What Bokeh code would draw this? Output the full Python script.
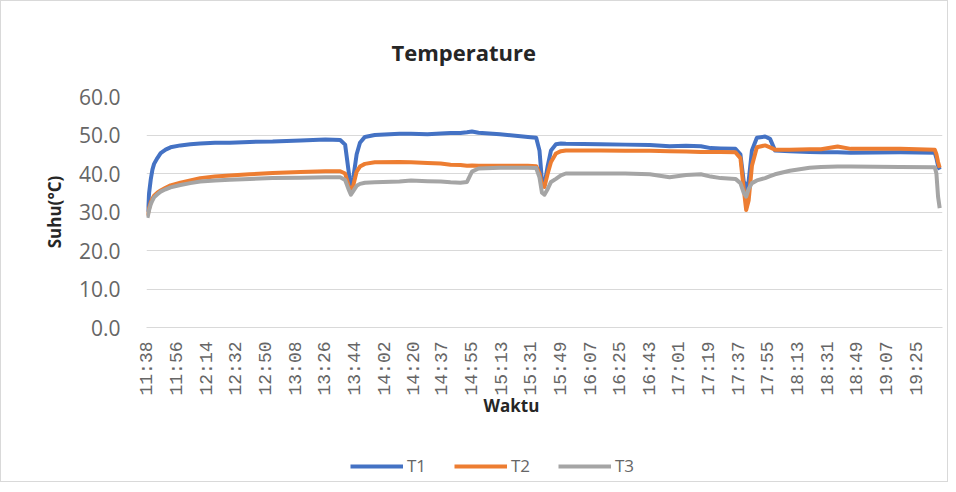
import math
from bokeh.plotting import figure
from bokeh.layouts import column
from bokeh.models import (Range1d, FixedTicker, Title, Legend, LegendItem,
                          NumeralTickFormatter)
from bokeh.embed import file_html
from bokeh.resources import INLINE

# ---------------- data ----------------
start_time = "11:38"
tick_labels = ["11:38", "11:56", "12:14", "12:32", "12:50", "13:08", "13:26",
               "13:44", "14:02", "14:20", "14:37", "14:55", "15:13", "15:31",
               "15:49", "16:07", "16:25", "16:43", "17:01", "17:19", "17:37",
               "17:55", "18:13", "18:31", "18:49", "19:07", "19:25"]

# elapsed minutes since 11:38
elapsed_min = [0, 1, 2, 3, 4, 6, 8, 11, 14, 20, 26, 32, 41, 50, 62, 76, 93, 108,
               117, 120, 122, 123.5, 125, 127, 129, 132, 138, 153, 160, 170, 178,
               184, 190, 194, 197, 201, 214, 231, 236, 238, 239.5, 241, 243, 245,
               248, 251, 254, 275, 290, 305, 317, 327, 336, 342, 348, 357, 360,
               362, 363.5, 365, 367, 370, 375, 378, 381, 390, 402, 409, 419, 427,
               457, 478, 479, 480, 481]

t1 = [30, 35, 38.5, 41, 42.5, 44, 45.3, 46.2, 46.8, 47.3, 47.6, 47.8, 48.0, 48.0,
      48.2, 48.3, 48.6, 48.8, 48.7, 47.5, 41, 36, 39, 45, 48, 49.5, 50.0, 50.3,
      50.3, 50.2, 50.4, 50.5, 50.5, 50.7, 50.9, 50.6, 50.2, 49.5, 49.3, 46, 38,
      37, 42, 46, 47.6, 47.8, 47.7, 47.6, 47.5, 47.4, 47.1, 47.2, 47.1, 46.6,
      46.5, 46.4, 45, 38, 36, 38, 46, 49.3, 49.6, 49.0, 46.0, 45.8, 45.6, 45.5,
      45.5, 45.4, 45.5, 45.4, 44, 42, 41]

t2 = [29, 31, 32.5, 33.5, 34.2, 35, 35.6, 36.3, 36.9, 37.6, 38.2, 38.8, 39.2,
      39.5, 39.8, 40.1, 40.4, 40.6, 40.6, 40, 37, 35, 37, 40.5, 41.8, 42.5, 42.9,
      43.0, 42.9, 42.7, 42.6, 42.3, 42.2, 42.0, 42.1, 42.0, 42.0, 42.0, 41.9, 40,
      37, 36.5, 40, 43, 45.2, 45.8, 46.0, 46.0, 45.9, 45.9, 45.8, 45.7, 45.6,
      45.6, 45.6, 45.5, 44, 36, 30.5, 33, 42, 46.8, 47.3, 46.8, 46.2, 46.2, 46.3,
      46.3, 47.0, 46.4, 46.4, 46.2, 45, 43, 41.5]

t3 = [28.5, 30.5, 32, 33, 33.8, 34.6, 35.3, 35.9, 36.4, 37.0, 37.5, 37.9, 38.2,
      38.4, 38.6, 38.8, 38.9, 39.0, 39.0, 38.3, 36, 34.5, 35.5, 36.8, 37.3, 37.6,
      37.7, 37.9, 38.2, 38.0, 37.9, 37.7, 37.6, 37.8, 40.5, 41.3, 41.5, 41.5,
      41.4, 39, 35, 34.5, 36, 37.8, 38.6, 39.5, 40.0, 40.0, 40.0, 39.8, 39.0,
      39.6, 39.8, 39.2, 38.8, 38.6, 37.5, 35, 34, 36, 37.5, 38.2, 38.8, 39.3,
      39.8, 40.7, 41.5, 41.7, 41.8, 41.8, 41.7, 41.6, 40, 34, 31]

y_ticks = [0, 10, 20, 30, 40, 50, 60]
series_names = ["T1", "T2", "T3"]
colors = ["#4472C4", "#ED7D31", "#A5A5A5"]


def to_min(s):
    h, m = s.split(":")
    h0, m0 = start_time.split(":")
    return (int(h) * 60 + int(m)) - (int(h0) * 60 + int(m0))


tick_pos = [to_min(s) for s in tick_labels]

# ---------------- main figure ----------------
p = figure(width=946, height=440, output_backend="svg", toolbar_location=None,
           x_range=Range1d(-0.6, 482.7), y_range=Range1d(0, 60),
           min_border_left=145, min_border_right=5, min_border_top=95,
           min_border_bottom=114)
p.outline_line_color = None
p.background_fill_color = "white"
p.border_fill_color = "white"

p.title.text = "Temperature"
p.title.align = "left"
p.title.offset = 245
p.title.standoff = 59
p.title.text_font = "Open Sans"
p.title.text_font_style = "bold"
p.title.text_font_size = "22px"
p.title.text_color = "#262626"

p.xgrid.grid_line_color = None
p.ygrid.grid_line_color = "#D9D9D9"
p.ygrid.grid_line_width = 1

# x axis
xa = p.xaxis[0]
xa.ticker = FixedTicker(ticks=tick_pos)
xa.major_label_overrides = {t: s for t, s in zip(tick_pos, tick_labels)}
xa.major_label_orientation = math.pi / 2
xa.major_label_text_font = "Liberation Mono"
xa.major_label_text_font_size = "18px"
xa.major_label_text_color = "#666666"
xa.major_label_standoff = 8
xa.axis_line_color = "#D9D9D9"
xa.major_tick_line_color = None
xa.minor_tick_line_color = None

# y axis
ya = p.yaxis[0]
ya.ticker = FixedTicker(ticks=y_ticks)
ya.formatter = NumeralTickFormatter(format="0.0")
ya.major_label_text_font = "Open Sans"
ya.major_label_text_font_size = "21px"
ya.major_label_text_color = "#666666"
ya.major_label_standoff = 20
ya.axis_line_color = None
ya.major_tick_line_color = None
ya.minor_tick_line_color = None
ya.axis_label = "Suhu(°C)"
ya.axis_label_text_font = "Open Sans"
ya.axis_label_text_font_style = "bold"
ya.axis_label_text_font_size = "17px"
ya.axis_label_text_color = "#262626"
ya.axis_label_standoff = 10

series_vals = [t1, t2, t3]
for vals, c in zip(series_vals, colors):
    p.line(elapsed_min, vals, line_color=c, line_width=4, line_join="round")

# x-axis title
p.add_layout(Title(text="Waktu", align="left", offset=337, standoff=-13,
                   text_font="Open Sans", text_font_style="bold",
                   text_font_size="17px", text_color="#262626"), "below")

# ---------------- legend strip ----------------
# the series are re-used here only to give the legend its line styles; the
# strip's ranges keep them out of view
lg = figure(width=946, height=40, output_backend="svg", toolbar_location=None,
            x_range=Range1d(0, 1), y_range=Range1d(1000, 1001),
            x_axis_type=None, y_axis_type=None, min_border=0)
lg.outline_line_color = None
lg.xgrid.grid_line_color = None
lg.ygrid.grid_line_color = None
lg_renderers = [lg.line(elapsed_min, vals, line_color=c, line_width=4)
                for vals, c in zip(series_vals, colors)]

legend = Legend(items=[LegendItem(label=n, renderers=[r])
                       for n, r in zip(series_names, lg_renderers)],
                location=(204, 4), orientation="horizontal",
                glyph_width=53, glyph_height=20, label_standoff=4, spacing=27,
                padding=0, margin=0, border_line_color=None,
                background_fill_alpha=0, label_text_font="Open Sans",
                label_text_font_size="17px", label_text_color="#666666")
lg.add_layout(legend)

layout = column(p, lg, spacing=0)
layout.styles = {"border": "1px solid #D9D9D9"}

open("out.html", "w").write(file_html(layout, INLINE))
